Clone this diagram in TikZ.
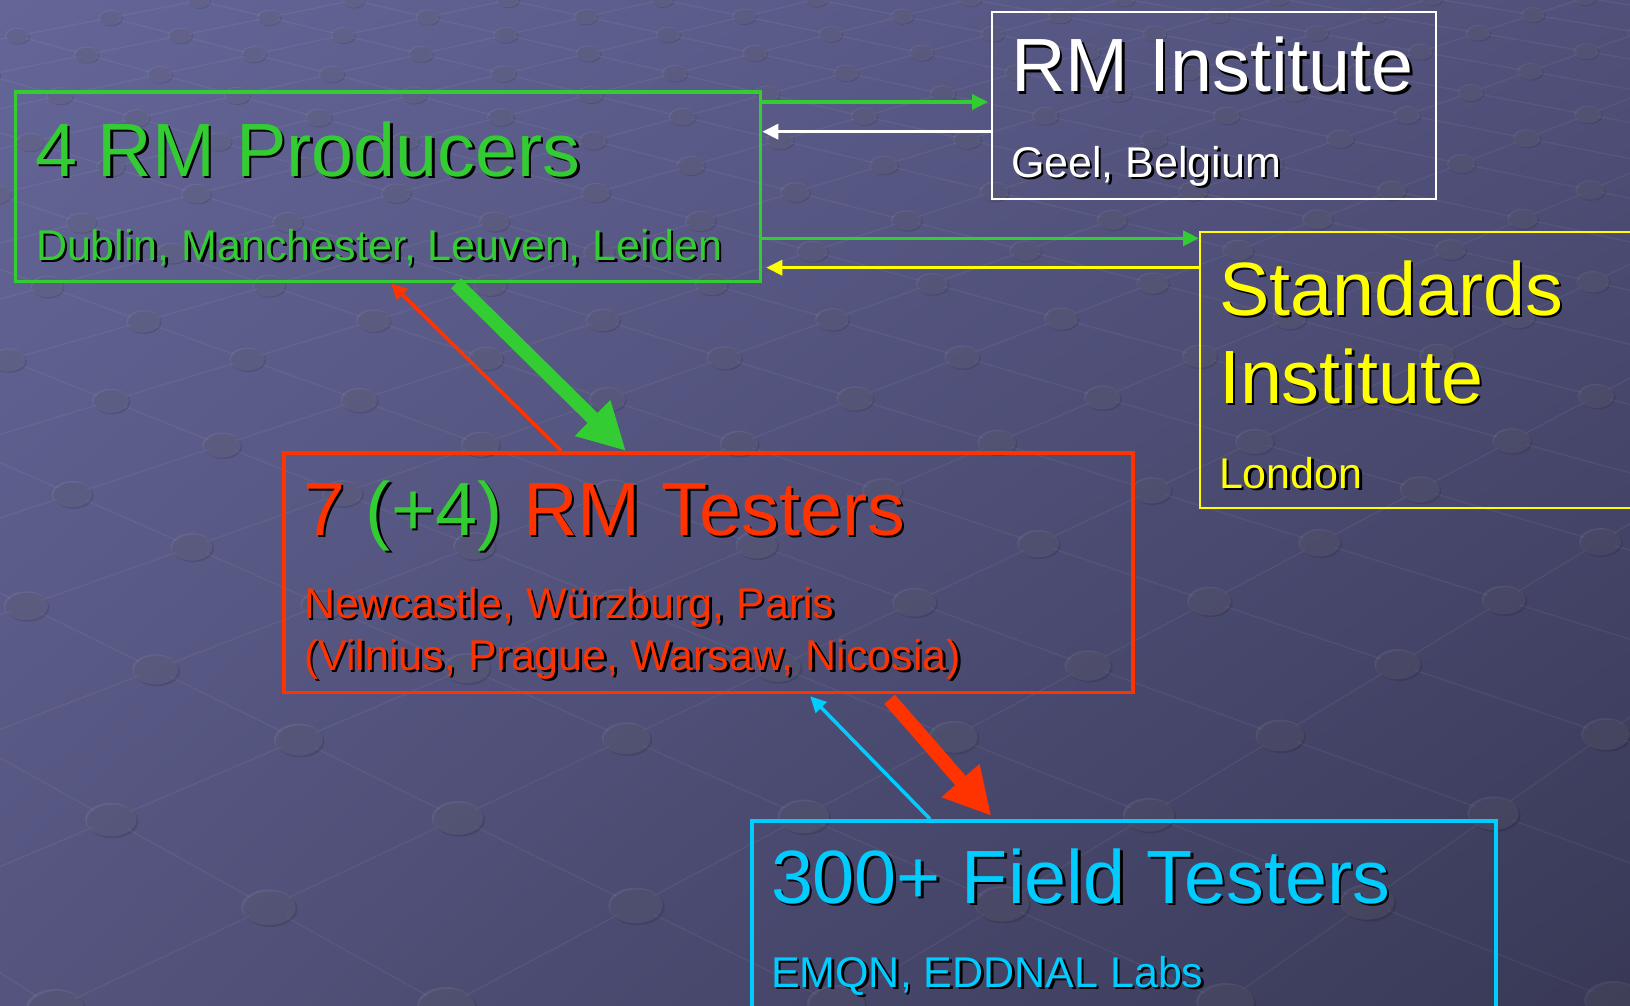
\documentclass[tikz,border=0pt]{standalone}
\usepackage{fontspec}
\setmainfont{Liberation Sans}
\usetikzlibrary{arrows.meta,calc,shadings}

\definecolor{rmgreen}{RGB}{51,204,51}
\definecolor{rmred}{RGB}{255,51,0}
\definecolor{rmyellow}{RGB}{255,255,0}
\definecolor{rmcyan}{RGB}{0,204,255}
\definecolor{bgUL}{RGB}{100,102,152}
\definecolor{bgUR}{RGB}{80,80,122}
\definecolor{bgLL}{RGB}{84,84,126}
\definecolor{bgLR}{RGB}{56,56,86}

% text with a dark drop shadow
\newcommand\shtext[2]{\makebox[0pt][l]{\kern2.5pt\raisebox{-2.5pt}{\color{black}#2}}{\color{#1}#2}}
\newcommand\titlesize{\fontsize{75.5pt}{82pt}\selectfont}
\newcommand\subsize{\fontsize{43pt}{50pt}\selectfont}

% perspective map of the floor lattice: plane (p,q) -> page (x,y)
\newcommand\gridmap[4]{%
  \pgfmathsetmacro#3{815+((#1)-815)/(1+(#2)/1664)}%
  \pgfmathsetmacro#4{1006-(#2)/(1+(#2)/1664)}}

\begin{document}
\begin{tikzpicture}[x=1pt,y=-1pt,
  box/.style={draw, inner sep=0pt, anchor=north west},
  lbl/.style={anchor=base west, inner sep=0pt, outer sep=0pt},
  thinarrow/.style={line width=3.5pt, -{Triangle[length=16pt,width=15pt]}},
  bigarrow/.style={line width=14pt, -{Triangle[length=47pt,width=47pt]}},
  latline/.style={white, opacity=.055, line width=1.3pt},
  ]
\useasboundingbox (0,0) rectangle (1630,1006);
\clip (0,0) rectangle (1630,1006);

% background
\shade[upper left=bgUL, upper right=bgUR, lower left=bgLL, lower right=bgLR]
  (0,0) rectangle (1630,1006);

% floor lattice of lines (stopping at the studs) and studs
\foreach \i in {-12,...,12}{
  \foreach \j in {-8,...,24}{
    \pgfmathsetmacro\pp{200+212*\i+178*\j}
    \pgfmathsetmacro\qq{317-105*\i+107*\j}
    \ifdim\qq pt>-200pt \ifdim\qq pt<2800pt
      \gridmap{\pp}{\qq}{\X}{\Y}
      \pgfmathsetmacro\sz{22/(1+\qq/1664)}
      \pgfmathsetmacro\qa{\qq-105}
      \pgfmathsetmacro\qb{\qq+107}
      \ifdim\qa pt>-200pt
        \gridmap{\pp+212}{\qa}{\Xa}{\Ya}
        \pgfmathsetmacro\sa{22/(1+\qa/1664)}
        \draw[latline, shorten <=\sz pt, shorten >=\sa pt] (\X,\Y) -- (\Xa,\Ya);
      \fi
      \ifdim\qb pt<2800pt
        \gridmap{\pp+178}{\qb}{\Xb}{\Yb}
        \pgfmathsetmacro\sb{22/(1+\qb/1664)}
        \draw[latline, shorten <=\sz pt, shorten >=\sb pt] (\X,\Y) -- (\Xb,\Yb);
      \fi
    \fi\fi
  }
}
\foreach \i in {-12,...,12}{
  \foreach \j in {-8,...,24}{
    \pgfmathsetmacro\pp{200+212*\i+178*\j}
    \pgfmathsetmacro\qq{317-105*\i+107*\j}
    \ifdim\qq pt>-200pt \ifdim\qq pt<2800pt
      \gridmap{\pp}{\qq}{\X}{\Y}
      \pgfmathsetmacro\w{1+\qq/1664}
      \pgfmathsetmacro\rx{29/\w}
      \pgfmathsetmacro\ry{19/\w}
      \fill[black, opacity=.12] (\X+2/\w,\Y+2/\w) ellipse [x radius=\rx pt, y radius=\ry pt];
      \fill[white, opacity=.07] (\X,\Y) ellipse [x radius=\rx pt, y radius=\ry pt];
    \fi\fi
  }
}

% boxes
\node[box, draw=rmgreen, line width=3.3pt, minimum width=745.5pt, minimum height=189.5pt] (prod) at (13.5,90.5) {};
\node[box, draw=white, line width=2pt, minimum width=444pt, minimum height=186.5pt] (rmi) at (991,11) {};
\node[box, draw=rmyellow, line width=2.2pt, minimum width=480pt, minimum height=276pt] (std) at (1199,231) {};
\node[box, draw=rmred, line width=3.5pt, minimum width=849pt, minimum height=239.5pt] (test) at (282,451) {};
\node[box, draw=rmcyan, line width=3.5pt, minimum width=744pt, minimum height=230pt] (field) at (750,819) {};

% helper coordinates for connector positions
\coordinate (yA) at (0,102);
\coordinate (yB) at (0,131.7);
\coordinate (yC) at (0,238.3);
\coordinate (yD) at (0,267.7);
\coordinate (xG) at (456,0);
\coordinate (xGt) at (626,0);
\coordinate (xR) at (561.5,0);
\coordinate (xRt) at (391,0);
\coordinate (xB) at (885,0);
\coordinate (xBt) at (994,0);
\coordinate (xC) at (930,0);
\coordinate (xCt) at (808,0);

% connectors
\draw[thinarrow, rmgreen, shorten >=3pt] (prod.east |- yA) -- (rmi.west |- yA);
\draw[thinarrow, white] (rmi.west |- yB) -- (prod.east |- yB);
\draw[thinarrow, rmgreen] (prod.east |- yC) -- (std.west |- yC);
\draw[thinarrow, rmyellow, shorten >=4pt] (std.west |- yD) -- (prod.east |- yD);
\draw[bigarrow, rmgreen] (prod.south -| xG) -- (test.north -| xGt);
\draw[thinarrow, rmred] (test.north -| xR) -- (prod.south -| xRt);
\draw[bigarrow, rmred, shorten <=7pt, shorten >=4pt] (test.south -| xB) -- (field.north -| xBt);
\draw[thinarrow, rmcyan, shorten >=3pt] (field.north -| xC) -- (test.south -| xCt);

% labels
\node[lbl] (prodT) at (35,176) {\titlesize\shtext{rmgreen}{4 RM Producers}};
\node[lbl] (prodS) at (36,260) {\subsize\shtext{rmgreen}{Dublin, Manchester, Leuven, Leiden}};
\node[lbl] (rmiT) at (1011,92) {\titlesize\shtext{white}{RM Institute}};
\node[lbl] (rmiS) at (1011,177) {\subsize\shtext{white}{Geel, Belgium}};
\node[lbl] (stdT1) at (1219,315) {\titlesize\shtext{rmyellow}{Standards}};
\node[lbl] (stdT2) at (1219,403) {\titlesize\shtext{rmyellow}{Institute}};
\node[lbl] (stdS) at (1219,488) {\subsize\shtext{rmyellow}{London}};
\node[lbl] (testT) at (303,535) {\titlesize\shtext{rmred}{7}\ \shtext{rmgreen}{(+4)}\ \shtext{rmred}{RM Testers}};
\node[lbl] (testS1) at (304,618) {\subsize\shtext{rmred}{Newcastle, Würzburg, Paris}};
\node[lbl] (testS2) at (304,670) {\subsize\shtext{rmred}{(Vilnius, Prague, Warsaw, Nicosia)}};
\node[lbl] (fieldT) at (771,903) {\titlesize\shtext{rmcyan}{300+ Field Testers}};
\node[lbl] (fieldS) at (771,987) {\subsize\shtext{rmcyan}{EMQN, EDDNAL Labs}};
\end{tikzpicture}
\end{document}
